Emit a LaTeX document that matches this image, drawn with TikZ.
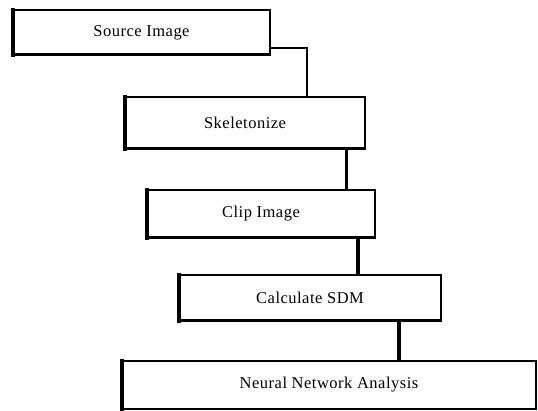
\documentclass[tikz,border=0pt]{standalone}
\usepackage{fontspec}
\setmainfont{Liberation Serif}[LetterSpace=3]
\begin{document}
\begin{tikzpicture}[x=1pt,y=-1pt,
  stepbox/.style={draw=black, line width=2.5pt, fill=white, inner sep=0pt,
    font=\fontsize{16.5}{18}\selectfont},
  link/.style={draw=black, line width=#1},
]
\useasboundingbox (0,0) rectangle (538,411);

% process steps
\node[stepbox, minimum width=256.5pt, minimum height=44.5pt] (src)  at (141.5,32.5) {Source Image};
\node[stepbox, minimum width=239.5pt, minimum height=51.5pt] (skel) at (245,123)    {Skeletonize};
\node[stepbox, minimum width=227.5pt, minimum height=47.5pt] (clip) at (261,214)    {Clip Image};
\node[stepbox, minimum width=261.5pt, minimum height=45.5pt] (sdm)  at (310,298)    {Calculate SDM};
\node[stepbox, minimum width=413.5pt, minimum height=47.5pt] (nna)  at (329,385)    {Neural Network Analysis};

% heavier left side of every box
\foreach \n in {src,skel,clip,sdm,nna}
  \draw[line width=4pt] ([xshift=0.75pt,yshift=1.25pt]\n.north west)
    -- ([xshift=0.75pt,yshift=-1.25pt]\n.south west);

% connectors
\draw[link=2pt] (src.east |- 0,48) -| (skel.north -| 307,0);
\draw[link=3pt] (skel.south -| 346,0) -- (clip.north -| 346,0);
\draw[link=4pt] (clip.south -| 358,0) -- (sdm.north -| 358,0);
\draw[link=4pt] (sdm.south -| 399,0) -- (nna.north -| 399,0);
\end{tikzpicture}
\end{document}
